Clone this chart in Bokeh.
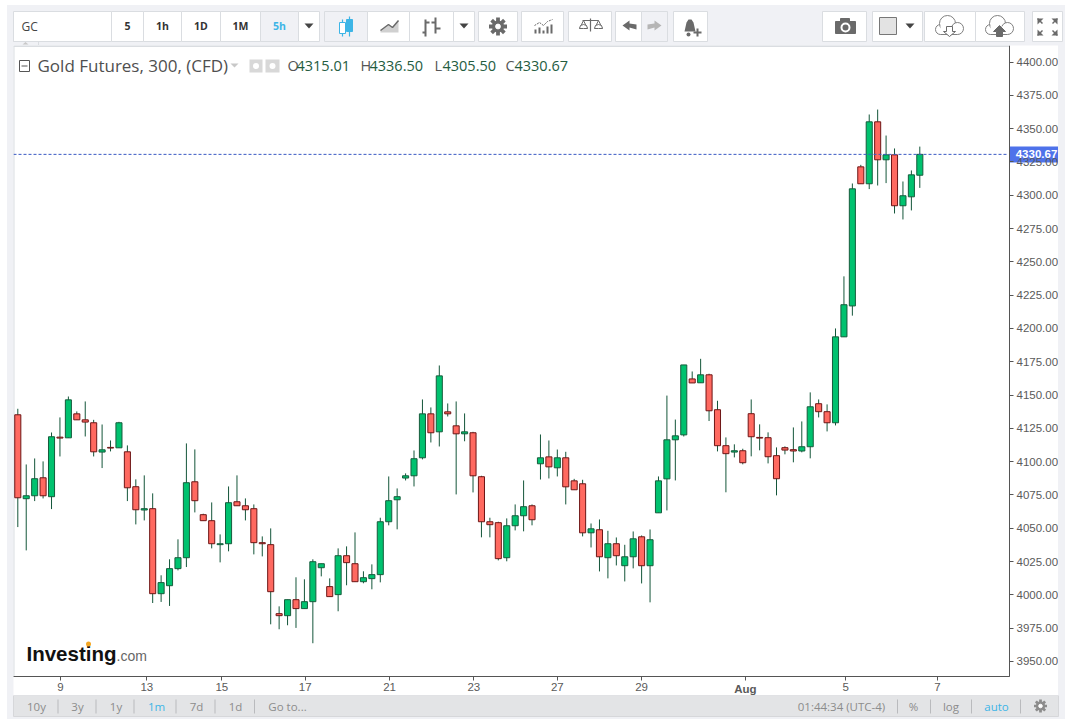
import math
from bokeh.plotting import figure
from bokeh.layouts import column
from bokeh.models import ColumnDataSource, Range1d, LinearAxis, FixedTicker, CustomJSTickFormatter
from bokeh.core.properties import value
from bokeh.embed import file_html
from bokeh.resources import INLINE

opens = [4135.2,4072.2,4074.4,4087.9,4073.7,4118.4,4117.9,4135.9,4131.4,4129.2,
         4107.2,4110.7,4110.4,4107.4,4081.2,4063.7,4064.7,4000.9,4006.9,4019.7,
         4027.9,4084.9,4060.2,4055.7,4037.7,4038.4,4069.9,4066.9,4064.7,4039.2,
         4037.7,3985.9,3984.4,3996.4,3989.7,3994.9,4020.4,4006.2,4000.2,4029.4,
         4023.4,4009.9,4012.2,4015.2,4054.9,4071.4,4087.7,4089.4,4102.9,4135.9,
         4122.4,4137.4,4126.9,4120.9,4121.7,4088.7,4054.9,4054.2,4027.9,4051.9,
         4059.4,4066.9,4098.4,4103.6,4095.4,4102.9,4085.6,4083.4,4046.6,4048.9,
         4027.9,4038.4,4021.9,4028.6,4043.6,4021.9,4061.6,4087.1,4116.4,4120.1,
         4162.1,4159.2,4165.2,4139.0,4112.0,4107.2,4108.2,4136.0,4118.2,4118.0,
         4104.5,4110.5,4109.0,4108.0,4111.2,4143.5,4137.5,4129.2,4193.7,4216.9,
         4321.3,4308.6,4355.1,4326.6,4330.3,4292.1,4298.8,4315.01]
closes = [4072.9,4074.4,4087.2,4074.4,4118.7,4117.7,4146.4,4131.4,4129.7,4107.4,
          4108.9,4110.2,4129.2,4080.4,4063.9,4064.7,4000.9,4009.2,4019.7,4027.9,
          4084.2,4070.7,4055.7,4038.4,4038.4,4069.2,4066.9,4063.9,4039.2,4038.4,
          4002.4,3984.4,3996.4,3989.7,3994.9,4024.9,4023.4,3998.7,4029.4,4024.2,
          4009.9,4012.9,4015.2,4054.9,4070.7,4073.7,4089.4,4102.2,4135.9,4121.7,
          4164.4,4135.9,4120.9,4122.4,4089.4,4054.9,4052.7,4027.2,4051.9,4059.4,
          4066.2,4056.4,4102.9,4096.1,4102.9,4081.1,4078.9,4046.6,4049.6,4028.6,
          4038.4,4029.4,4028.6,4042.1,4021.9,4041.4,4085.6,4116.4,4119.4,4172.6,
          4159.1,4165.2,4138.2,4112.0,4106.0,4108.2,4099.2,4118.7,4117.7,4103.7,
          4087.2,4108.7,4108.0,4111.2,4141.2,4137.5,4129.2,4193.7,4217.8,4304.8,
          4308.6,4355.1,4326.6,4330.3,4292.1,4299.6,4315.3,4330.67]
highs = [4139.7,4097.9,4102.4,4100.2,4121.9,4133.2,4148.9,4137.7,4145.2,4131.4,
         4127.9,4115.9,4129.9,4112.2,4086.7,4089.7,4076.2,4014.7,4026.7,4041.7,
         4113.7,4109.2,4060.9,4069.4,4045.4,4081.4,4089.7,4072.4,4067.9,4043.9,
         4049.9,3991.4,3996.4,4013.2,4011.7,4026.7,4023.4,4012.4,4034.9,4036.4,
         4046.9,4017.7,4022.9,4057.9,4088.9,4079.9,4091.2,4108.4,4146.7,4140.7,
         4172.2,4143.7,4145.2,4136.2,4122.4,4089.4,4057.9,4054.9,4057.4,4067.9,
         4085.9,4067.9,4120.4,4115.9,4109.1,4107.4,4087.1,4086.4,4053.6,4056.6,
         4048.1,4043.1,4037.6,4047.6,4044.6,4049.1,4088.9,4149.6,4131.6,4172.6,
         4167.7,4177.2,4166.0,4145.7,4118.2,4113.0,4109.7,4146.7,4128.0,4122.0,
         4110.7,4111.5,4125.7,4130.2,4152.0,4146.7,4143.0,4200.0,4239.1,4308.8,
         4322.8,4360.6,4364.3,4344.8,4335.1,4310.3,4318.6,4336.5]
lows = [4050.9,4033.4,4070.4,4072.4,4064.4,4103.9,4117.9,4131.4,4118.9,4103.9,
        4095.2,4107.7,4110.4,4070.4,4052.9,4055.9,3993.9,3994.7,3991.7,4018.4,
        4020.9,4061.9,4055.7,4034.9,4024.4,4032.7,4066.9,4055.9,4030.4,4028.9,
        3977.9,3974.2,3977.2,3975.2,3989.7,3963.7,4013.9,3998.7,3987.7,4007.2,
        4009.9,4008.7,4004.2,4009.4,4052.2,4049.2,4085.9,4081.4,4101.7,4114.4,
        4111.4,4133.9,4075.4,4115.3,4076.9,4043.2,4043.2,4025.9,4025.2,4048.4,
        4047.7,4052.2,4086.6,4087.4,4088.9,4067.9,4078.9,4043.9,4035.6,4017.6,
        4012.4,4022.1,4010.1,4019.9,4008.6,3994.4,4061.6,4063.4,4085.9,4118.9,
        4159.1,4159.2,4130.5,4107.7,4077.0,4103.2,4098.0,4104.0,4108.5,4098.7,
        4074.7,4105.5,4099.5,4107.0,4102.5,4133.2,4122.7,4127.2,4193.7,4209.6,
        4308.6,4304.6,4307.3,4309.1,4286.3,4281.8,4288.6,4305.5]
price_ticks = [4400,4375,4350,4325,4300,4275,4250,4225,4200,4175,4150,4125,4100,
               4075,4050,4025,4000,3975,3950]
date_ticks = [5.07,15.3,24.2,34.1,44.1,54.1,64.0,74.0,98.2,109.1]
date_labels = ["9","13","15","17","21","23","27","29","5","7"]
month_ticks = [86.3]
month_labels = ["Aug"]
last_price = 4330.67
legend_name = "Gold Futures, 300, (CFD)"
ohlc = [("O","4315.01"),("H","4336.50"),("L","4305.50"),("C","4330.67")]

BG = "#f0f1f5"; EDGE = "#dadde1"; ICON = "#6a6a6a"; BLUE = "#3db5e6"
SANS = value("Open Sans")

def chrome(h, y0, y1):
    f = figure(width=1058, height=h, output_backend="svg", toolbar_location=None,
               x_range=Range1d(7, 1065), y_range=Range1d(y1, y0), min_border=0,
               x_axis_type=None, y_axis_type=None, outline_line_color=None)
    f.grid.visible = False
    f.background_fill_color = BG
    f.border_fill_color = BG
    return f

def gear(f, cx, cy, r, color):
    xs0, ys0, xs1, ys1 = [], [], [], []
    for k in range(8):
        a = k * math.pi / 4
        xs0.append(cx + r * 0.5 * math.cos(a)); ys0.append(cy + r * 0.5 * math.sin(a))
        xs1.append(cx + r * math.cos(a)); ys1.append(cy + r * math.sin(a))
    f.segment(xs0, ys0, xs1, ys1, line_color=color, line_width=r * 0.42)
    f.circle([cx], [cy], radius=r * 0.62, fill_color=color, line_color=color)
    f.circle([cx], [cy], radius=r * 0.27, fill_color="white", line_color="white")

# ---- top toolbar, in page pixels
top = chrome(40, 5, 45)
btn = [(13,111),(111,143),(143,181),(181,220),(220,260),(260,298),(298,319),
       (324,367),(367,409),(409,453),(453,474),(478,517),(521,563),(568,611),
       (615,641),(641,667),(673,707),(822,866),(872,922),(924,975),(975,1024),(1032,1062)]
soft = {(260,298),(324,367),(641,667)}
top.quad(left=[a for a, b in btn], right=[b for a, b in btn], top=[11]*len(btn), bottom=[41]*len(btn),
         fill_color=[BG if (a, b) in soft else "white" for a, b in btn], line_color=EDGE, line_width=1)
top.segment([13,38],[41,41],[38,38],[41,45],line_color=EDGE)
top.patch([22,28,25],[44,44,41.5],fill_color="#c8c8c8",line_color=None)
top.text([21], [26], text=["GC"], text_font=SANS, text_font_size="12px", text_color="#444444", text_baseline="middle")
for cx, t, c in [(127,"5","#333333"),(162,"1h","#333333"),(200.5,"1D","#333333"),(240,"1M","#333333"),(279,"5h",BLUE)]:
    top.text([cx], [25.5], text=[t], text_font=SANS, text_font_size="10.5px", text_font_style="bold",
             text_color=c, text_align="center", text_baseline="middle")
top.patches([[304,313,308.5],[459,468,463.5],[905,914,909.5]], [[23,23,28]]*3, fill_color="#444444", line_color=None)
top.segment([342,349],[19,16],[342,349],[36,36],line_color=BLUE,line_width=1.2)
top.quad(left=[339],right=[345],top=[22],bottom=[33],fill_color="white",line_color=BLUE)
top.quad(left=[346],right=[352],top=[19],bottom=[31],fill_color=BLUE,line_color=BLUE)
top.patch([380,388,392,398,398,380],[30,24,27,20,32,32],fill_color="#d0d0d0",line_color=None)
top.line([380,388,392,398],[30,24,27,20],line_color=ICON,line_width=1.5)
top.segment([425,435],[19,17],[425,435],[36,33],line_color=ICON,line_width=2)
top.segment([422,425,435,435],[32,22,22,28],[425,429,431,440],[32,22,22,28],line_color=ICON,line_width=2)
gear(top, 497.5, 26, 9, ICON)
top.quad(left=[534,538,542,546,550],right=[536,540,544,548,552],top=[29,27,30,26,24],bottom=[33]*5,fill_color=ICON,line_color=None)
top.line([534,539,543,547,552],[25,22,25,21,19],line_color=ICON,line_width=1,line_dash="2 1")
top.segment([582,590],[20,18],[598,590],[20,31],line_color=ICON,line_width=1.2)
top.segment([579,583,594,598],[28,20,28,20],[583,587,598,602],[20,28,20,28],line_color=ICON,line_width=1)
top.wedge([583,598],[28,28],radius=4,start_angle=0,end_angle=math.pi,fill_color="white",line_color=ICON)
top.patch([622,629,629,636,636,629,629],[25,20,23,24,29,27,30],fill_color=ICON,line_color=None)
top.patch([661,654,654,647,647,654,654],[25,20,23,24,29,27,30],fill_color="#b5b5b5",line_color=None)
top.patch([684,686,688,691,693,695,682],[31,22,19,19,22,31,31],fill_color=ICON,line_color=None)
top.segment([693,697],[32,28],[701,697],[32,36],line_color=ICON,line_width=2)
top.circle([688],[34],radius=2,fill_color=ICON,line_color=None)
top.quad(left=[835],right=[855],top=[21],bottom=[33],fill_color=ICON,line_color=ICON)
top.quad(left=[840],right=[849],top=[18],bottom=[21],fill_color=ICON,line_color=ICON)
top.circle([845],[27],radius=4,fill_color=ICON,line_color="white",line_width=2)
top.quad(left=[879],right=[896],top=[17],bottom=[34],fill_color="#e3e3e3",line_color="#777777")
for cx, solid in [(949,False),(999,True)]:
    top.circle([cx-9,cx-2,cx+8],[29,23,28],radius=[5,8,6],fill_color="white",line_color="#808080")
    top.quad(left=[cx-9],right=[cx+8],top=[26],bottom=[34],fill_color="white",line_color=None)
    top.segment([cx-9],[34],[cx+8],[34],line_color="#808080")
    top.patch([cx-6,cx,cx+6,cx+3,cx+3,cx-3,cx-3] if solid else [cx-3,cx+3,cx+3,cx+6,cx,cx-6,cx-3],
              [31,25,31,31,36,36,31] if solid else [26,26,31,31,36,31,31],
              fill_color=ICON if solid else "white", line_color=ICON)
top.patches([[1037,1043,1037],[1057,1051,1057],[1037,1043,1037],[1057,1051,1057]],
            [[18,18,24],[18,18,24],[35,35,29],[35,35,29]],fill_color=ICON,line_color=None)
top.segment([1037,1057,1037,1057],[18,18,35,35],[1042,1052,1042,1052],[23,23,30,30],line_color=ICON,line_width=1.5)

# ---- chart: the frame fills the figure, axes sit at fixed locations inside it
PITCH = 8.43
X0 = 17.3
SCALE = 1.3322
def xd(px): return (px - X0) / PITCH
def yd(py): return 4400 - (py - 61.5) / SCALE

p = figure(width=1045, height=650, output_backend="svg", toolbar_location=None,
           x_range=Range1d(xd(13), xd(1058)), y_range=Range1d(yd(695), yd(45)),
           x_axis_type=None, y_axis_type=None, margin=(0, 7, 0, 6),
           min_border=0, outline_line_color=None)
p.grid.visible = False
p.background_fill_color = "white"
p.border_fill_color = "white"

ya = LinearAxis(ticker=FixedTicker(ticks=price_ticks), fixed_location=xd(1009),
                bounds=(yd(676), yd(45)), formatter=CustomJSTickFormatter(code="return tick.toFixed(2)"))
xa = LinearAxis(ticker=FixedTicker(ticks=date_ticks), fixed_location=yd(676), bounds=(xd(13), xd(1009)),
                major_label_overrides=dict(zip(date_ticks, date_labels)))
xm = LinearAxis(ticker=FixedTicker(ticks=month_ticks), fixed_location=yd(676), bounds=(xd(13), xd(1009)),
                major_label_overrides=dict(zip(month_ticks, month_labels)), major_label_text_font_style="bold")
for a in (ya, xa, xm):
    a.axis_line_color = "#555555"; a.major_tick_line_color = "#555555"
    a.major_tick_out = 4; a.major_tick_in = 0; a.minor_tick_line_color = None
    a.major_label_text_color = "#5a5a5a"; a.major_label_text_font = "Liberation Sans"
    a.major_label_text_font_size = "11.5px"
ya.major_label_standoff = 3
xa.major_label_standoff = 2
xm.major_label_standoff = 2
p.add_layout(ya, "right")
p.add_layout(xa, "below")
p.add_layout(xm, "below")

# frame edges on the top and left, as light rules
p.segment([xd(13), xd(13)], [yd(45.5), yd(45.5)], [xd(1009), xd(13)], [yd(45.5), yd(676)], line_color=EDGE, line_width=2)

idx = list(range(len(opens)))
src = ColumnDataSource(dict(
    x=idx, open=opens, close=closes, high=highs, low=lows,
    top=[max(o, c) for o, c in zip(opens, closes)],
    bottom=[min(o, c) for o, c in zip(opens, closes)],
    fill=["#00c26f" if c >= o else "#ff6960" for o, c in zip(opens, closes)],
    edge=["#165c3c" if c >= o else "#6e1616" for o, c in zip(opens, closes)],
))
p.segment("x", "high", "x", "low", source=src, line_color="#14563a", line_width=1)
p.vbar("x", 0.72, "bottom", "top", source=src, fill_color="fill", line_color="edge", line_width=1)

# last price line and flag
p.segment([xd(13)], [last_price], [xd(1008)], [last_price], line_color="#3a5ac4", line_width=1, line_dash="3 2")
p.quad(left=[xd(1009)], right=[xd(1058)], top=[yd(146)], bottom=[yd(162)], fill_color="#4e72ea", line_color=None)
p.text([xd(1036)], [last_price], text=["{:.2f}".format(last_price)], text_color="white",
       text_font=value("Liberation Sans"), text_font_size="11.5px", text_font_style="bold",
       text_align="center", text_baseline="middle")

# legend
p.quad(left=[xd(19)], right=[xd(29)], top=[yd(60)], bottom=[yd(71)], fill_color="white", line_color="#555555")
p.segment([xd(21)], [yd(65.5)], [xd(27)], [yd(65.5)], line_color="#555555")
p.text([xd(37)], [yd(65)], text=[legend_name], text_font=SANS, text_font_size="17px",
       text_color="#4f4f4f", text_baseline="middle")
p.patch([xd(230), xd(238), xd(234)], [yd(63), yd(63), yd(67)], fill_color="#c8c8c8", line_color=None)
p.quad(left=[xd(249), xd(265)], right=[xd(262), xd(279)], top=[yd(59)]*2, bottom=[yd(72)]*2,
       fill_color="#d8d8d8", line_color=None)
p.scatter([xd(255.5), xd(272)], [yd(65.5)]*2, size=6, marker="circle", fill_color="white", line_color=None)
for px0, px1, (k, v) in zip([287, 360, 434, 505], [296, 369, 442, 514], ohlc):
    p.text([xd(px0)], [yd(65)], text=[k], text_font=SANS, text_font_size="14.5px", text_color="#555555", text_baseline="middle")
    p.text([xd(px1)], [yd(65)], text=[v], text_font=SANS, text_font_size="14.5px", text_color="#245c3f", text_baseline="middle")

# logo
p.text([xd(26)], [yd(653)], text=["Investing"], text_font=value("Liberation Sans"), text_font_size="20.5px",
       text_font_style="bold", text_color="#111111", text_baseline="middle")
p.text([xd(116)], [yd(655)], text=[".com"], text_font=value("Liberation Sans"), text_font_size="14px",
       text_color="#666666", text_baseline="middle")
p.scatter([xd(88)], [yd(643.5)], size=5, marker="circle", fill_color="#f5a623", line_color=None)

# ---- bottom bar
bot = chrome(24, 695, 719)
bot.quad(left=[13], right=[1058], top=[695], bottom=[716], fill_color="#e3e4e6", line_color="#d6d7da")
GREY = "#8c8c8c"
for cx, t, c in [(36,"10y",GREY),(77,"3y",GREY),(115.5,"1y",GREY),(156,"1m",BLUE),(196,"7d",GREY),(235,"1d",GREY),
                 (287,"Go to...",GREY),(841,"01:44:34 (UTC-4)",GREY),(913,"%",GREY),(950.5,"log",GREY),(996,"auto",BLUE)]:
    bot.text([cx], [705.5], text=[t], text_font=SANS, text_font_size="11.5px", text_color=c,
             text_align="center", text_baseline="middle")
div = [57.5,95.5,133.5,175.5,214.5,254,897,930,971,1020]
bot.segment(div, [699]*len(div), div, [713]*len(div), line_color="#b9babd")
gear(bot, 1040, 705.5, 6.5, "#8c8c8c")

layout = column(top, p, bot, spacing=0, margin=(5, 7, 0, 7), styles={"background-color": BG})
open("out.html", "w").write(file_html(layout, INLINE))
